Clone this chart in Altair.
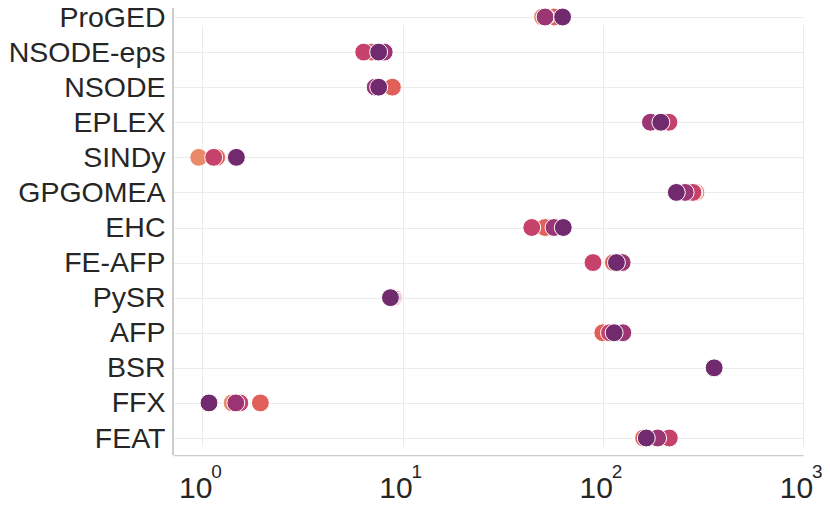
import altair as alt
import pandas as pd

methods = ["ProGED", "NSODE-eps", "NSODE", "EPLEX", "SINDy", "GPGOMEA", "EHC",
           "FE-AFP", "PySR", "AFP", "BSR", "FFX", "FEAT"]

series_names = ["0", "0.001", "0.01", "0.05", "0.1"]
series_colors = ["#ea8a69", "#e1605a", "#c7426b", "#9c3574", "#702a6d"]

s0 = [50, 7.2, 7.5, 190, 0.96, 292, 51, 115, 8.9, 104, 360, 1.41, 159]
s1 = [57, 7.0, 8.9, 200, 1.18, 285, 51.5, 113, 9.0, 100, 360, 1.95, 160]
s2 = [52, 6.4, 7.4, 214, 1.14, 282, 44.2, 89.4, 8.9, 108, 360, 1.54, 215]
s3 = [51.5, 8.1, 7.3, 173, 1.47, 258, 57.1, 125, 8.8, 126, 360, 1.47, 188]
s4 = [63, 7.6, 7.6, 195, 1.48, 233, 63.5, 117, 8.7, 114, 360, 1.08, 165]
series_values = [s0, s1, s2, s3, s4]

tick_values = [1, 10, 100, 1000]
tick_exponents = ["0", "1", "2", "3"]

rows = []
for si, (name, vals) in enumerate(zip(series_names, series_values)):
    for m, v in zip(methods, vals):
        rows.append({"method": m, "value": v, "series": name, "order": si})
df = pd.DataFrame(rows)
ticks_df = pd.DataFrame({"tick": tick_values, "exp": tick_exponents})

W, H = 630, 447
FONT = "Liberation Sans"
TXT = "#262626"

xscale = alt.Scale(type="log", domain=[0.714, 1000], nice=False)

points = alt.Chart(df).mark_point(
    filled=True, shape="circle", size=320, opacity=1,
    stroke="white", strokeWidth=1
).encode(
    x=alt.X("value:Q", scale=xscale,
            axis=alt.Axis(values=tick_values, labelExpr="'10'", title=None,
                          ticks=False, grid=True, gridColor="#ebebeb",
                          domainColor="#cccccc", domainWidth=1.25,
                          labelFont=FONT, labelFontSize=30, labelColor=TXT,
                          labelBaseline="alphabetic", labelPadding=42,
                          labelOffset=-7, labelFlush=False, labelOverlap=False,
                          labelBound=False)),
    y=alt.Y("method:N", sort=methods,
            scale=alt.Scale(type="point", range=[9, 430], padding=0),
            axis=alt.Axis(title=None, ticks=False, domain=False, grid=True,
                          gridColor="#ebebeb", labelFont=FONT, labelFontSize=28.5,
                          labelColor=TXT, labelPadding=8)),
    color=alt.Color("series:N", sort=series_names,
                    scale=alt.Scale(domain=series_names, range=series_colors),
                    legend=None),
    order=alt.Order("order:Q"),
)

spine = alt.Chart(ticks_df).mark_rule(color="#cccccc", strokeWidth=1.25).encode(
    x=alt.value(0), y=alt.value(0), y2=alt.value(H)
)

expo = alt.Chart(ticks_df).mark_text(
    font=FONT, fontSize=19, color=TXT, align="left", baseline="alphabetic", dx=9
).encode(
    x=alt.X("tick:Q", scale=xscale),
    y=alt.value(H + 23),
    text="exp:N",
)

chart = alt.layer(spine, points, expo).properties(
    width=W, height=H,
    autosize=alt.AutoSizeParams(type="none"),
    padding={"left": 165, "top": 0, "right": 19, "bottom": 49},
    background="white",
).configure_view(stroke=None)

chart.save("out.html", embed_options={"renderer": "svg", "actions": False})
